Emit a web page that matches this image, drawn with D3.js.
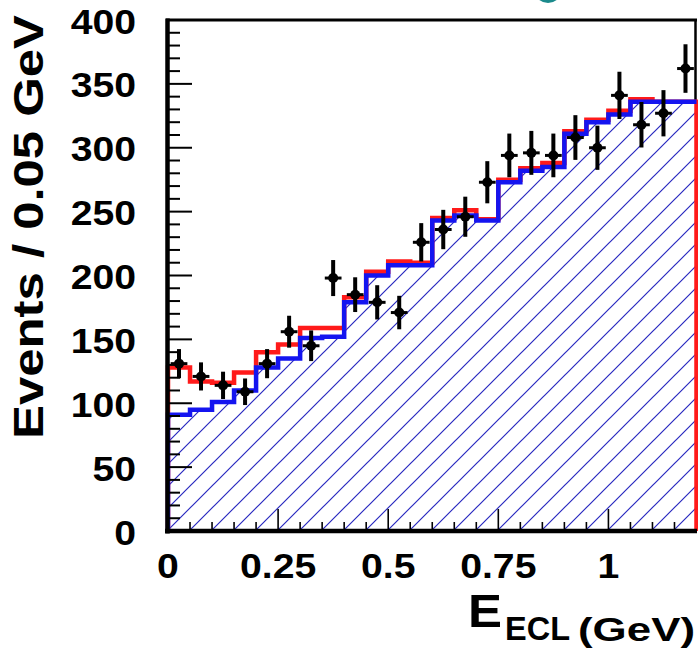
<!DOCTYPE html>
<html>
<head>
<meta charset="utf-8">
<script src="https://cdn.jsdelivr.net/npm/d3@7"></script>
<style>
  html, body { margin: 0; padding: 0; background: #ffffff; }
  svg { display: block; }
  text { font-family: "Liberation Sans", Arial, Helvetica, sans-serif; font-weight: bold; fill: #000; }
</style>
</head>
<body>
<svg id="chart" width="698" height="653"></svg>
<script>
// ---- data ----
const binLow = [0, 0.05, 0.1, 0.15, 0.2, 0.25, 0.3, 0.35, 0.4, 0.45, 0.5, 0.55,
                0.6, 0.65, 0.7, 0.75, 0.8, 0.85, 0.9, 0.95, 1.0, 1.05, 1.1, 1.15];
const binWidth = 0.05;
const totalFit   = [128, 117, 116, 124, 140, 146, 159, 159, 183, 203, 211, 210,
                    245, 251, 244, 275, 284, 288, 313, 322, 329, 338, 336, 336];
const background = [91, 95, 101, 110, 128, 135, 151, 152, 179, 200, 208, 208,
                    243, 247, 243, 273, 282, 285, 311, 320, 326, 336, 336, 336];
const dataCounts = [131, 121, 114, 109, 131, 156, 145, 198, 185, 179, 171, 226,
                    236, 246, 273, 294, 296, 294, 308, 300, 341, 318, 327, 362];
const dataErrors = [11.4, 11.0, 10.7, 10.4, 11.4, 12.5, 12.0, 14.1, 13.6, 13.4, 13.1, 15.0,
                    15.4, 15.7, 16.5, 17.1, 17.2, 17.1, 17.5, 17.3, 18.5, 17.8, 18.1, 19.0];
const yTickLabels = [0, 50, 100, 150, 200, 250, 300, 350, 400];
const xTickLabels = [0, 0.25, 0.5, 0.75, 1];
const yTitle = "Events / 0.05 GeV";
const xTitleMain = "E", xTitleSub = "ECL", xTitleUnit = "(GeV)";

// ---- scales ----
const x = d3.scaleLinear().domain([0, 1.2]).range([168, 696.5]);
const y = d3.scaleLinear().domain([0, 400]).range([531, 20]);

const svg = d3.select("#chart");
svg.append("rect").attr("width", 698).attr("height", 653).attr("fill", "#fff");

// decorative teal shape cut at the top edge
svg.append("circle").attr("cx", 548).attr("cy", -11).attr("r", 14).attr("fill", "#1b8a8c");

// hatch pattern
const defs = svg.append("defs");
const pat = defs.append("pattern").attr("id", "hatch")
  .attr("patternUnits", "userSpaceOnUse")
  .attr("x", 16).attr("y", 0).attr("width", 22).attr("height", 22);
pat.append("rect").attr("width", 22).attr("height", 22).attr("fill", "#ffffff");
pat.append("path").attr("d", "M-2,2 L2,-2 M0,22 L22,0 M20,24 L24,20")
  .attr("stroke", "#2828c0").attr("stroke-width", 1.2);

function stepPoints(vals) {
  const pts = [[x(binLow[0]), y(0)]];
  vals.forEach((v, i) => {
    pts.push([x(binLow[i]), y(v)]);
    pts.push([x(binLow[i] + binWidth), y(v)]);
  });
  pts.push([x(binLow[binLow.length - 1] + binWidth), y(0)]);
  return pts;
}
const line = d3.line();

// frame (top and right)
svg.append("line").attr("x1", 166).attr("x2", 697).attr("y1", y(400)).attr("y2", y(400))
  .attr("stroke", "#000").attr("stroke-width", 3);
svg.append("line").attr("x1", 695.5).attr("x2", 695.5).attr("y1", y(400)).attr("y2", y(0))
  .attr("stroke", "#000").attr("stroke-width", 2.5);

// hatched background area
const bgPts = stepPoints(background);
svg.append("path").attr("d", line(bgPts) + "Z").attr("fill", "url(#hatch)");

// total fit (red)
svg.append("path").attr("d", line(stepPoints(totalFit)))
  .attr("fill", "none").attr("stroke", "#ff1a1a").attr("stroke-width", 4.5)
  .attr("stroke-linejoin", "miter");

// background (blue), without right vertical edge
svg.append("path").attr("d", line(bgPts.slice(0, bgPts.length - 1)))
  .attr("fill", "none").attr("stroke", "#1414f0").attr("stroke-width", 4.5)
  .attr("stroke-linejoin", "miter");

// data points
const pts = svg.append("g");
dataCounts.forEach((v, i) => {
  const cx = x(binLow[i] + binWidth / 2);
  const g = pts.append("g");
  g.append("line").attr("x1", cx).attr("x2", cx)
    .attr("y1", y(v - dataErrors[i])).attr("y2", y(v + dataErrors[i]))
    .attr("stroke", "#000").attr("stroke-width", 4);
  g.append("line").attr("x1", x(binLow[i] + 0.006)).attr("x2", x(binLow[i] + binWidth - 0.006))
    .attr("y1", y(v)).attr("y2", y(v))
    .attr("stroke", "#000").attr("stroke-width", 3);
  g.append("circle").attr("cx", cx).attr("cy", y(v)).attr("r", 5).attr("fill", "#000");
});

// axes: left and bottom thick lines
svg.append("line").attr("x1", 167.5).attr("x2", 167.5).attr("y1", y(400) - 1.5).attr("y2", y(0) + 2.5)
  .attr("stroke", "#000").attr("stroke-width", 4.5);
svg.append("line").attr("x1", 165).attr("x2", 697).attr("y1", y(0)).attr("y2", y(0))
  .attr("stroke", "#000").attr("stroke-width", 4.5);

// y ticks
const yMinor = d3.range(0, 401, 10);
yMinor.forEach(v => {
  const major = v % 50 === 0;
  if (v === 0 || v === 400) return;
  svg.append("line").attr("x1", 168).attr("x2", 168 + (major ? 24 : 12))
    .attr("y1", y(v)).attr("y2", y(v)).attr("stroke", "#000").attr("stroke-width", 2);
});
// x ticks
const xMinor = d3.range(0, 1.2001, 0.05);
xMinor.forEach(v => {
  const major = Math.abs(v / 0.25 - Math.round(v / 0.25)) < 1e-6;
  if (v < 1e-6 || v > 1.19) return;
  svg.append("line").attr("x1", x(v)).attr("x2", x(v))
    .attr("y1", y(0)).attr("y2", y(0) - (major ? 22 : 9))
    .attr("stroke", "#000").attr("stroke-width", 1.6);
});

// y tick labels
yTickLabels.forEach(v => {
  svg.append("g").attr("transform", `translate(136,${y(v) + 1})`)
    .append("text").attr("transform", "scale(1.12,1)")
    .attr("text-anchor", "end").attr("dy", "0.36em")
    .attr("font-size", 35).text(v);
});
// x tick labels
xTickLabels.forEach(v => {
  svg.append("g").attr("transform", `translate(${x(v)},565)`)
    .append("text").attr("transform", "scale(1.12,1)")
    .attr("text-anchor", "middle").attr("dy", "0.36em")
    .attr("font-size", 35).text(v);
});

// y title
svg.append("text").attr("transform", "translate(43,227) rotate(-90)")
  .attr("text-anchor", "middle").attr("font-size", 42)
  .attr("textLength", 424).attr("lengthAdjust", "spacingAndGlyphs")
  .text(yTitle);

// x title
svg.append("text").attr("x", 468).attr("y", 627).attr("font-size", 47)
  .attr("textLength", 34).attr("lengthAdjust", "spacingAndGlyphs").text(xTitleMain);
svg.append("text").attr("x", 505).attr("y", 640).attr("font-size", 34)
  .attr("textLength", 65).attr("lengthAdjust", "spacingAndGlyphs").text(xTitleSub);
svg.append("text").attr("x", 578).attr("y", 641).attr("font-size", 33)
  .attr("textLength", 117).attr("lengthAdjust", "spacingAndGlyphs").text(xTitleUnit);
</script>
</body>
</html>
